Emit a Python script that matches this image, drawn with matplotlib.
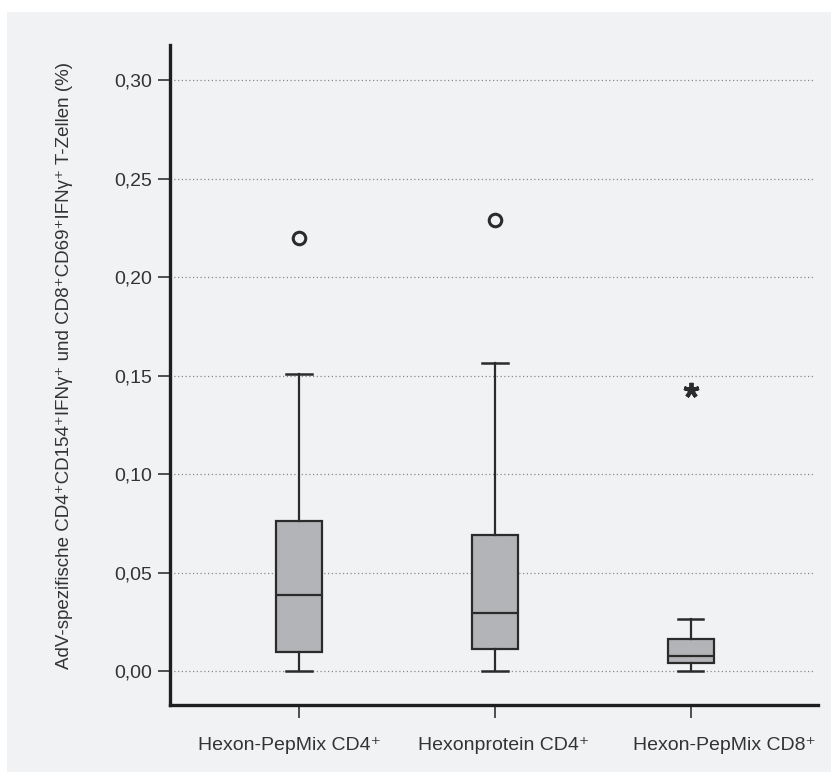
import numpy as np
import matplotlib.pyplot as plt
from matplotlib.patches import Rectangle
from matplotlib.transforms import ScaledTranslation

plt.rcParams['font.family'] = ['Liberation Sans', 'DejaVu Sans']

# Box statistics per stimulation (percent of T cells)
labels = ["Hexon-PepMix CD4\u207a", "Hexonprotein CD4\u207a", "Hexon-PepMix CD8\u207a"]
whislo = [0.0, 0.0, 0.0]
q1 = [0.0096, 0.0112, 0.0040]
med = [0.0386, 0.0294, 0.0076]
q3 = [0.0760, 0.0690, 0.0162]
whishi = [0.1508, 0.1563, 0.0264]
outliers = [[0.2198], [0.2290], []]
extremes = [[], [], [0.1426]]

yticks = [0.00, 0.05, 0.10, 0.15, 0.20, 0.25, 0.30]

fig = plt.figure(figsize=(8.31, 7.72), dpi=100)
fig.patch.set_facecolor("white")
fig.patches.append(Rectangle((7 / 831, 0), 1, 1 - 12 / 772, transform=fig.transFigure,
                             facecolor="#f1f2f4", edgecolor="none", zorder=-10))

ax = fig.add_axes([170 / 831, 67 / 772, 648 / 831, 660 / 772])
ax.set_facecolor("none")

dark = "#2b2b2b"
for i in range(3):
    stats = [dict(whislo=whislo[i], q1=q1[i], med=med[i], q3=q3[i],
                  whishi=whishi[i], fliers=outliers[i] + extremes[i])]
    if extremes[i]:
        # extreme values drawn as a five-armed asterisk
        fp = dict(marker=(5, 2, 0), markersize=11, markeredgecolor=dark,
                  markeredgewidth=2.8)
    else:
        fp = dict(marker="o", markersize=9, markerfacecolor="none",
                  markeredgecolor=dark, markeredgewidth=2.2)
    ax.bxp(stats, positions=[i + 1], widths=0.235, patch_artist=True,
           showfliers=True, capwidths=0.13,
           boxprops=dict(facecolor="#b3b4b7", edgecolor=dark, linewidth=1.6),
           medianprops=dict(color=dark, linewidth=1.6),
           whiskerprops=dict(color=dark, linewidth=1.6),
           capprops=dict(color=dark, linewidth=1.8),
           flierprops=fp)

ax.set_xlim(0.34, 3.65)
ax.set_ylim(-0.0173, 0.318)
ax.set_yticks(yticks)
ax.set_yticklabels([f"{v:.2f}".replace(".", ",") for v in yticks], fontsize=14, color="#333333")
ax.set_xticks([1, 2, 3])
ax.set_xticklabels([])

# category labels, slightly off their ticks
for i, (lab, dx) in enumerate(zip(labels, [-10, 9, 34])):
    tr = ax.get_xaxis_transform() + ScaledTranslation(dx / 100, -0.41, fig.dpi_scale_trans)
    ax.text(i + 1, 0, lab, transform=tr, ha="center", va="center",
            fontsize=14, color="#333333")

for y in yticks:
    ax.axhline(y, xmin=0, xmax=0.995, color="#8a8a8a", linestyle=(0, (1, 2)),
               linewidth=0.9, zorder=0)

for s in ["top", "right"]:
    ax.spines[s].set_visible(False)
for s in ["left", "bottom"]:
    ax.spines[s].set_linewidth(2.4)
    ax.spines[s].set_color("#1e1e1e")

ax.tick_params(axis="y", length=9, width=1.2, color="#333333", pad=4)
ax.tick_params(axis="x", length=9, width=1.2, color="#333333")

ax.set_ylabel("AdV-spezifische CD4\u207aCD154\u207aIFN\u03b3\u207a und CD8\u207aCD69\u207aIFN\u03b3\u207a T-Zellen (%)",
              fontsize=13.5, color="#333333")
ax.yaxis.set_label_coords(-0.149, 0.515)

fig.savefig("out.png", dpi=100)
